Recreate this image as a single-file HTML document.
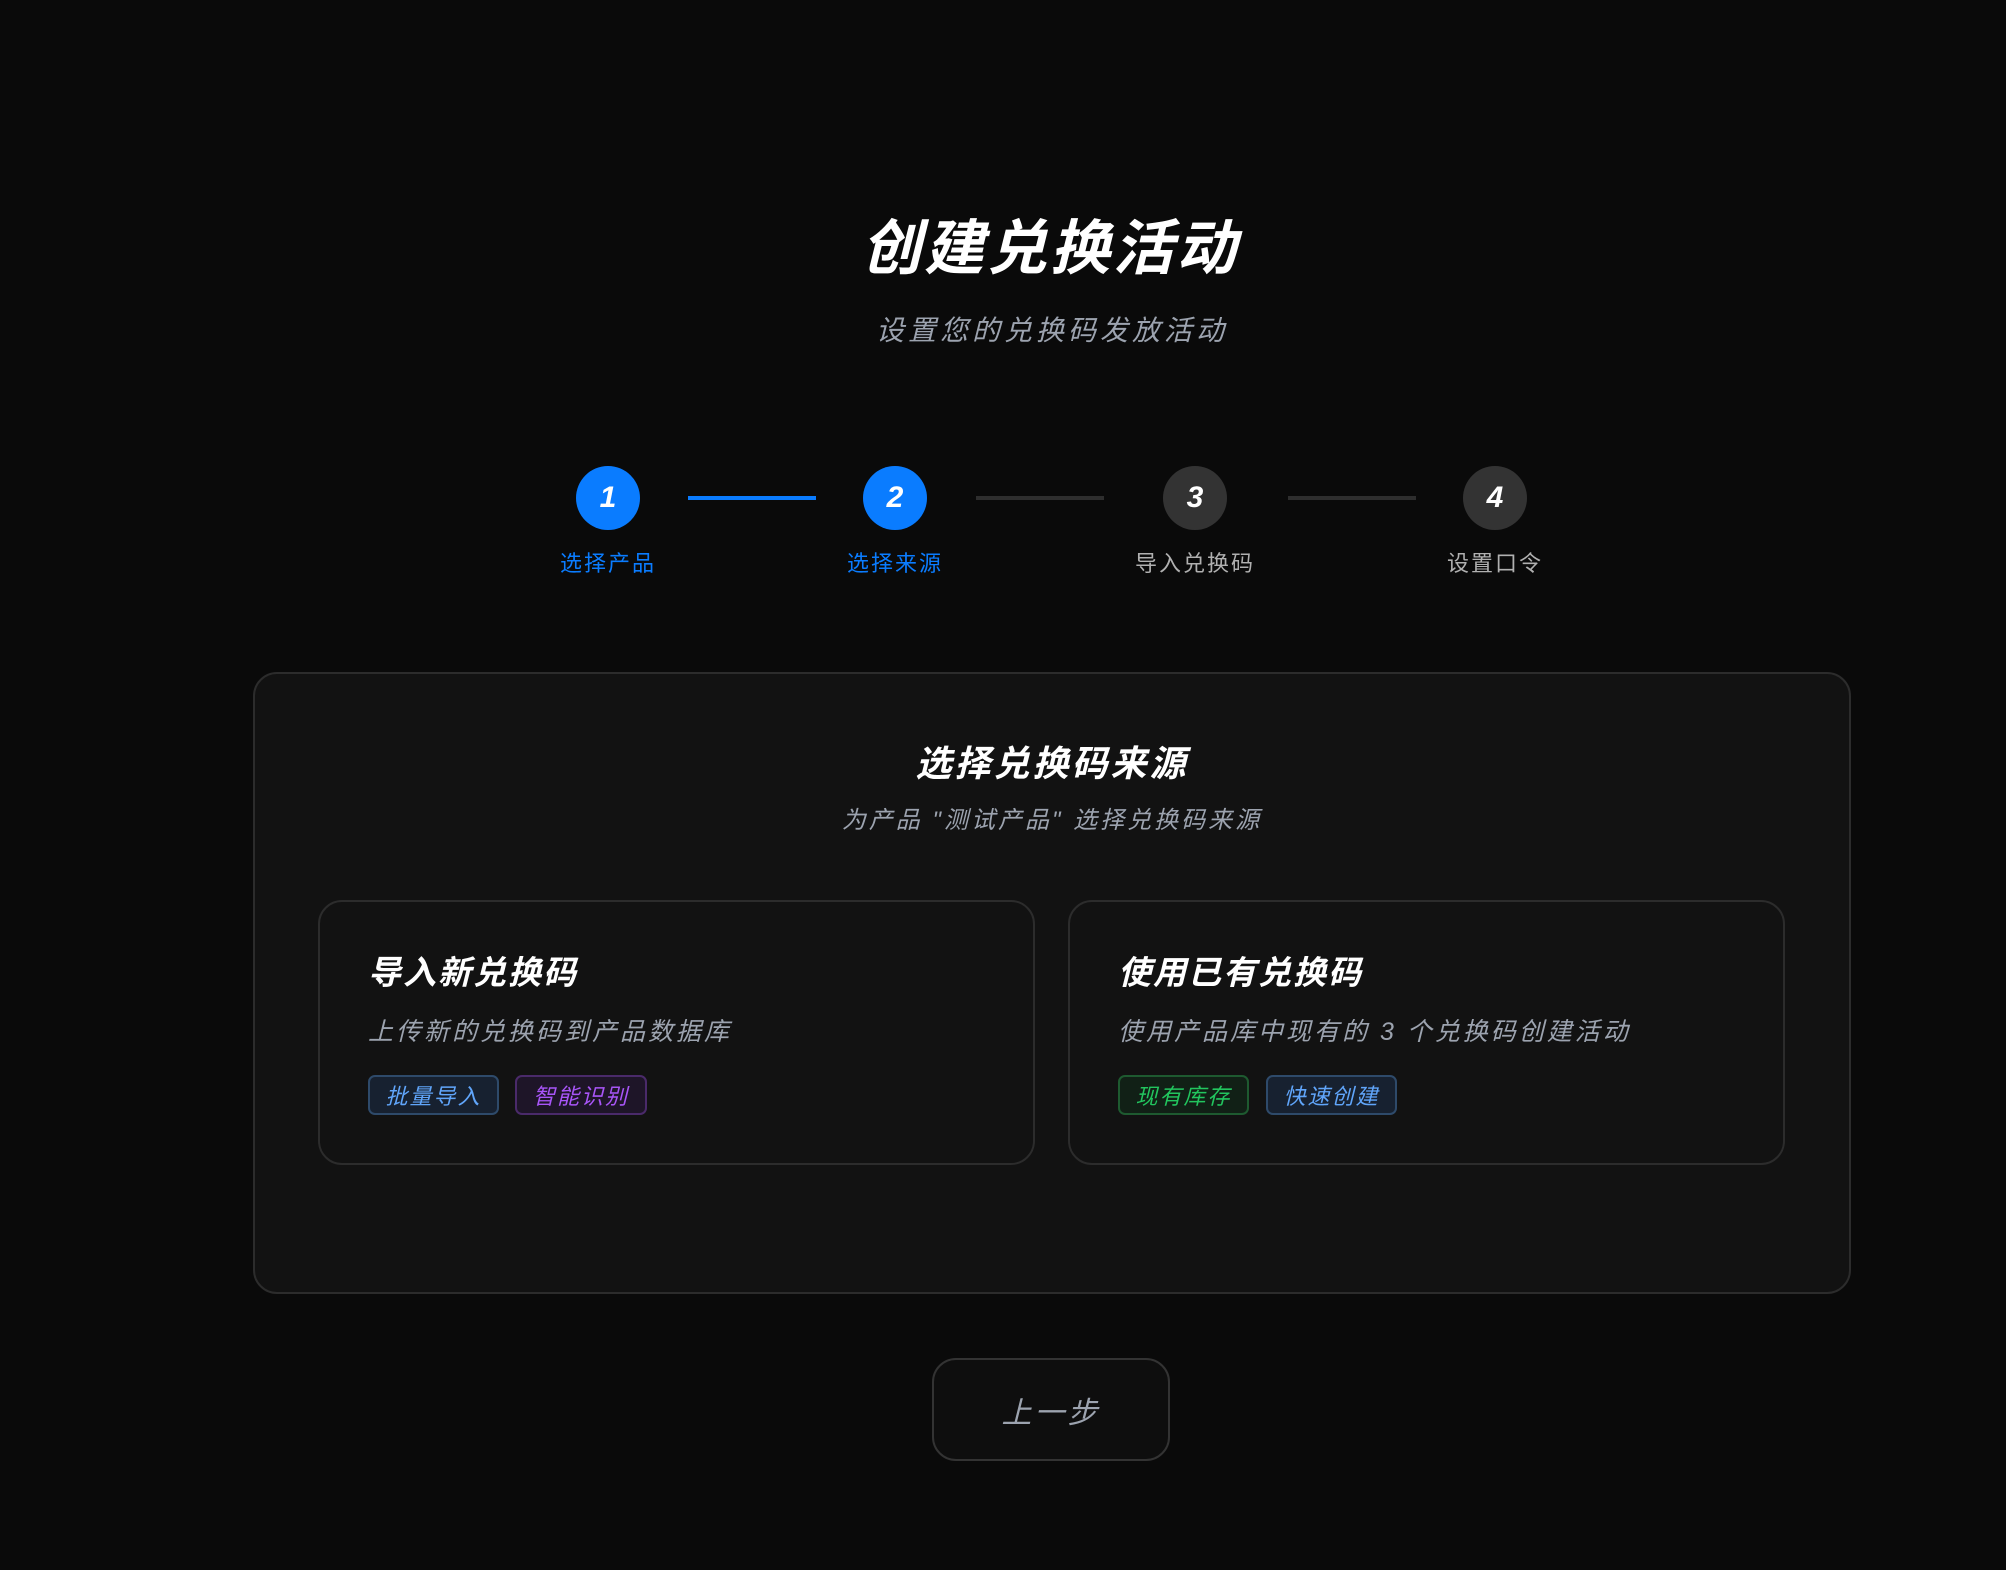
<!DOCTYPE html>
<html><head><meta charset="utf-8"><style>
*{margin:0;padding:0;box-sizing:border-box}
body{width:2006px;height:1570px;background:#0a0a0a;font-family:"Liberation Sans","Noto Sans CJK SC",sans-serif;position:relative;overflow:hidden;color:#fff}
.a{position:absolute}
.c{text-align:center;white-space:nowrap}
.it{font-style:italic}
.circ{position:absolute;width:64px;height:64px;border-radius:50%;top:466px;display:flex;align-items:center;justify-content:center;font-weight:bold;font-size:30px;font-style:italic;color:#fff}
.lbl{position:absolute;top:546px;width:160px;text-align:center;font-size:22px;letter-spacing:2px}
.line{position:absolute;top:496px;height:4px}
.card{position:absolute;border:2px solid #2c2c2c;border-radius:24px;background:#121212}
.tag{position:absolute;top:1075px;height:40px;border-radius:7px;border:2px solid;font-size:22px;letter-spacing:2px;display:flex;align-items:center;justify-content:center;font-style:italic}
</style></head><body>
<div class="a c it" style="left:0;width:2100px;top:200px;font-size:60px;font-weight:bold;letter-spacing:3px">创建兑换活动</div>
<div class="a c it" style="left:0;width:2104px;top:309px;font-size:28px;color:#9ca3af;letter-spacing:4px">设置您的兑换码发放活动</div>

<div class="circ" style="left:576px;background:#0a7cff">1</div>
<div class="circ" style="left:863px;background:#0a7cff">2</div>
<div class="circ" style="left:1163px;background:#333">3</div>
<div class="circ" style="left:1463px;background:#333">4</div>
<div class="line" style="left:688px;width:128px;background:#0a7cff"></div>
<div class="line" style="left:976px;width:128px;background:#2e2e2e"></div>
<div class="line" style="left:1288px;width:128px;background:#2e2e2e"></div>
<div class="lbl" style="left:528px;color:#0a7cff">选择产品</div>
<div class="lbl" style="left:815px;color:#0a7cff">选择来源</div>
<div class="lbl" style="left:1115px;color:#b0b0b0">导入兑换码</div>
<div class="lbl" style="left:1415px;color:#b0b0b0">设置口令</div>

<div class="card" style="left:253px;top:672px;width:1598px;height:622px"></div>
<div class="a c it" style="left:0;width:2104px;top:735px;font-size:36px;font-weight:bold;letter-spacing:3px">选择兑换码来源</div>
<div class="a c it" style="left:0;width:2104px;top:800px;font-size:24px;color:#9ca3af;letter-spacing:3px">为产品 "测试产品" 选择兑换码来源</div>

<div class="card" style="left:318px;top:900px;width:717px;height:265px"></div>
<div class="card" style="left:1068px;top:900px;width:717px;height:265px"></div>
<div class="a it" style="left:368px;top:946px;font-size:33px;font-weight:bold;letter-spacing:2px">导入新兑换码</div>
<div class="a it" style="left:368px;top:1012px;font-size:25px;color:#9ca3af;letter-spacing:3px">上传新的兑换码到产品数据库</div>
<div class="a it" style="left:1118px;top:946px;font-size:33px;font-weight:bold;letter-spacing:2px">使用已有兑换码</div>
<div class="a it" style="left:1118px;top:1012px;font-size:25px;color:#9ca3af;letter-spacing:3px">使用产品库中现有的 3 个兑换码创建活动</div>

<div class="tag" style="left:368px;width:131px;color:#60a5fa;border-color:#2e4a6a;background:#172130">批量导入</div>
<div class="tag" style="left:515px;width:132px;color:#a855f7;border-color:#4a2a6a;background:#1e1528">智能识别</div>
<div class="tag" style="left:1118px;width:131px;color:#22c55e;border-color:#1e5a30;background:#112016">现有库存</div>
<div class="tag" style="left:1266px;width:131px;color:#60a5fa;border-color:#2e4a6a;background:#172130">快速创建</div>

<div class="a" style="left:932px;top:1358px;width:238px;height:103px;border:2px solid #333;border-radius:24px;background:#0e0e0e;display:flex;align-items:center;justify-content:center;font-size:30px;color:#9ca3af;font-style:italic;letter-spacing:3px">上一步</div>
</body></html>
